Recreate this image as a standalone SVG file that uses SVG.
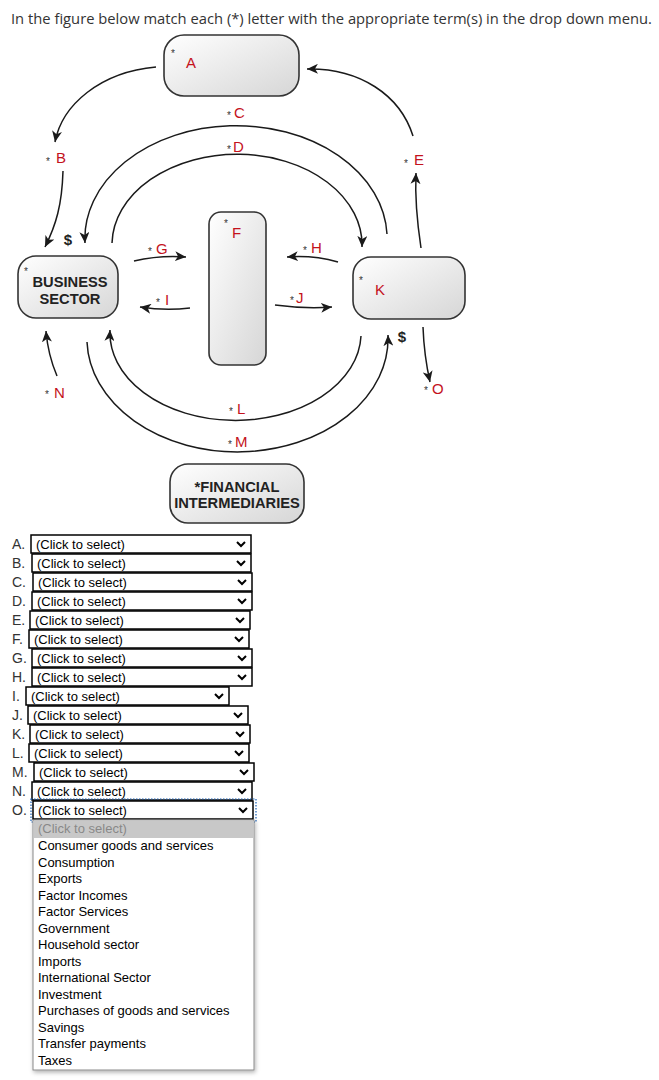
<svg xmlns="http://www.w3.org/2000/svg" width="659" height="1080" viewBox="0 0 659 1080">
<style>
.ttl{font-family:"Open Sans","Liberation Sans",sans-serif;font-size:14px;fill:#333}
.box{fill:url(#g);stroke:#333;stroke-width:1.6}
.bold{font-family:"Liberation Sans",Arial,sans-serif;font-weight:bold;font-size:14.7px;fill:#222;text-anchor:middle}
.star{font-family:"Liberation Sans",Arial,sans-serif;font-size:10px;fill:#333}
.lt{font-family:"Liberation Sans",Arial,sans-serif;font-size:15px;fill:#c4121c}
.dol{font-family:"Liberation Sans",Arial,sans-serif;font-weight:bold;font-size:15px;fill:#222;text-anchor:middle}
.ln{fill:none;stroke:#1a1a1a;stroke-width:1.5}
.ar{marker-end:url(#ah)}
.lab{font-family:"Liberation Sans",Arial,sans-serif;font-size:14px;fill:#333}
.sel{fill:#fff;stroke:#000;stroke-width:1.5}
.st{font-family:"Liberation Sans",Arial,sans-serif;font-size:13px;fill:#000}
.chev{fill:none;stroke:#000;stroke-width:2}
.opt{font-family:"Liberation Sans",Arial,sans-serif;font-size:13px;fill:#000}
</style>
<defs>
<linearGradient id="g" x1="0" y1="0" x2="1" y2="1">
<stop offset="0" stop-color="#ffffff"/>
<stop offset="1" stop-color="#d6d6d6"/>
</linearGradient>
<marker id="ah" markerUnits="userSpaceOnUse" markerWidth="12" markerHeight="10" refX="11" refY="5" orient="auto">
<path d="M0,0 L11,5 L0,10 L3,5 z" fill="#1a1a1a"/>
</marker>
<filter id="sh" x="-10%" y="-10%" width="125%" height="120%">
<feDropShadow dx="1" dy="2" stdDeviation="2" flood-color="#000" flood-opacity="0.3"/>
</filter>
</defs>
<rect width="659" height="1080" fill="#fff"/>
<text class="ttl" x="11" y="24" textLength="641" lengthAdjust="spacingAndGlyphs">In the figure below match each (*) letter with the appropriate term(s) in the drop down menu.</text>

<g id="connectors">
<path class="ln ar" d="M156,67 C100,72 62,105 55,142"/>
<path class="ln ar" d="M63,171 C62,205 56,225 45,247"/>
<path class="ln ar" d="M387,234 A150,112 0 0 0 85,243"/>
<path class="ln ar" d="M112,243 A124,90 0 0 1 362,247"/>
<path class="ln ar" d="M413,136 C400,95 360,68 307,69"/>
<path class="ln ar" d="M421,248 C416,215 415,195 416,173"/>
<path class="ln ar" d="M134,261 Q160,255 186,257"/>
<path class="ln ar" d="M190,308 Q165,311 140,307"/>
<path class="ln ar" d="M338,262 Q313,255 287,257"/>
<path class="ln ar" d="M275,305 Q305,309 332,307"/>
<path class="ln ar" d="M57,376 Q48,355 46,331"/>
<path class="ln ar" d="M423,327 Q424,355 430,382"/>
<path class="ln ar" d="M361,336 A125,87 0 0 1 110,330"/>
<path class="ln ar" d="M87,342 A150,113 0 0 0 388,335"/>
</g>

<g id="labels">
<text class="star" x="46" y="165">*</text><text class="lt" x="56" y="163">B</text>
<text class="star" x="227" y="119">*</text><text class="lt" x="234" y="118">C</text>
<text class="star" x="227" y="153">*</text><text class="lt" x="233" y="152">D</text>
<text class="star" x="404" y="167">*</text><text class="lt" x="414" y="165">E</text>
<text class="star" x="148" y="255">*</text><text class="lt" x="156" y="254">G</text>
<text class="star" x="156" y="306">*</text><text class="lt" x="165" y="305">I</text>
<text class="star" x="303" y="254">*</text><text class="lt" x="311" y="253">H</text>
<text class="star" x="290" y="304">*</text><text class="lt" x="296" y="303">J</text>
<text class="star" x="45" y="398">*</text><text class="lt" x="54" y="398">N</text>
<text class="star" x="424" y="394">*</text><text class="lt" x="432" y="394">O</text>
<text class="star" x="229" y="415">*</text><text class="lt" x="237" y="414">L</text>
<text class="star" x="228" y="448">*</text><text class="lt" x="235" y="447">M</text>
<text class="dol" x="68" y="245">$</text>
<text class="dol" x="402" y="342">$</text>
</g>

<g id="node-A">
<rect class="box" x="164" y="35" width="135" height="61" rx="20"/>
<text class="star" x="171" y="57">*</text><text class="lt" x="186" y="68">A</text>
</g>
<g id="node-F">
<rect class="box" x="209" y="212" width="57" height="153" rx="12"/>
<text class="star" x="224" y="227">*</text><text class="lt" x="232" y="238">F</text>
</g>
<g id="node-business">
<rect class="box" x="18" y="256" width="100" height="62" rx="18"/>
<text class="star" x="24" y="275">*</text>
<text class="bold" x="70" y="287">BUSINESS</text>
<text class="bold" x="70" y="304">SECTOR</text>
</g>
<g id="node-K">
<rect class="box" x="353" y="257" width="112" height="62" rx="18"/>
<text class="star" x="359" y="284">*</text><text class="lt" x="375" y="295">K</text>
</g>
<g id="node-financial">
<rect class="box" x="170" y="464" width="134" height="59" rx="18"/>
<text class="bold" x="237" y="492">*FINANCIAL</text>
<text class="bold" x="237" y="508">INTERMEDIARIES</text>
</g>

<g id="dropdowns">
<text class="lab" x="12" y="549">A.</text><rect class="sel" x="31" y="535" width="220" height="18"/><text class="st" x="36" y="549">(Click to select)</text><path class="chev" d="M237,542 l4,4 l4,-4"/>
<text class="lab" x="12" y="568">B.</text><rect class="sel" x="32" y="554" width="219" height="18"/><text class="st" x="37" y="568">(Click to select)</text><path class="chev" d="M237,561 l4,4 l4,-4"/>
<text class="lab" x="12" y="587">C.</text><rect class="sel" x="33" y="573" width="219" height="18"/><text class="st" x="38" y="587">(Click to select)</text><path class="chev" d="M238,580 l4,4 l4,-4"/>
<text class="lab" x="12" y="606">D.</text><rect class="sel" x="32" y="592" width="220" height="18"/><text class="st" x="37" y="606">(Click to select)</text><path class="chev" d="M238,599 l4,4 l4,-4"/>
<text class="lab" x="12" y="625">E.</text><rect class="sel" x="30" y="611" width="220" height="18"/><text class="st" x="35" y="625">(Click to select)</text><path class="chev" d="M236,618 l4,4 l4,-4"/>
<text class="lab" x="12" y="644">F.</text><rect class="sel" x="29" y="630" width="220" height="18"/><text class="st" x="34" y="644">(Click to select)</text><path class="chev" d="M235,637 l4,4 l4,-4"/>
<text class="lab" x="12" y="663">G.</text><rect class="sel" x="32" y="649" width="220" height="18"/><text class="st" x="37" y="663">(Click to select)</text><path class="chev" d="M238,656 l4,4 l4,-4"/>
<text class="lab" x="12" y="682">H.</text><rect class="sel" x="32" y="668" width="220" height="18"/><text class="st" x="37" y="682">(Click to select)</text><path class="chev" d="M238,675 l4,4 l4,-4"/>
<text class="lab" x="12" y="701">I.</text><rect class="sel" x="26" y="687" width="203" height="18"/><text class="st" x="31" y="701">(Click to select)</text><path class="chev" d="M215,694 l4,4 l4,-4"/>
<text class="lab" x="12" y="720">J.</text><rect class="sel" x="28" y="706" width="220" height="18"/><text class="st" x="33" y="720">(Click to select)</text><path class="chev" d="M234,713 l4,4 l4,-4"/>
<text class="lab" x="12" y="739">K.</text><rect class="sel" x="30" y="725" width="220" height="18"/><text class="st" x="35" y="739">(Click to select)</text><path class="chev" d="M236,732 l4,4 l4,-4"/>
<text class="lab" x="12" y="758">L.</text><rect class="sel" x="29" y="744" width="220" height="18"/><text class="st" x="34" y="758">(Click to select)</text><path class="chev" d="M235,751 l4,4 l4,-4"/>
<text class="lab" x="12" y="777">M.</text><rect class="sel" x="34" y="763" width="220" height="18"/><text class="st" x="39" y="777">(Click to select)</text><path class="chev" d="M240,770 l4,4 l4,-4"/>
<text class="lab" x="12" y="796">N.</text><rect class="sel" x="32" y="782" width="220" height="18"/><text class="st" x="37" y="796">(Click to select)</text><path class="chev" d="M238,789 l4,4 l4,-4"/>
<text class="lab" x="12" y="815">O.</text><rect x="31" y="799" width="225" height="23" fill="none" stroke="#1a5fb4" stroke-width="1.2" stroke-dasharray="1.5,1.5"/><rect class="sel" x="33" y="801" width="220" height="18"/><text class="st" x="38" y="815">(Click to select)</text><path class="chev" d="M239,808 l4,4 l4,-4"/>
</g>

<g id="dropdown-list">
<rect x="33" y="820" width="221" height="250" fill="#fff" stroke="#8a8a8a" stroke-width="1" filter="url(#sh)"/>
<rect x="34" y="821" width="219" height="17" fill="#c8c8c8"/>
<text class="opt" x="38" y="833" style="fill:#888">(Click to select)</text>
<text class="opt" x="38" y="850">Consumer goods and services</text>
<text class="opt" x="38" y="866.5">Consumption</text>
<text class="opt" x="38" y="883">Exports</text>
<text class="opt" x="38" y="899.5">Factor Incomes</text>
<text class="opt" x="38" y="916">Factor Services</text>
<text class="opt" x="38" y="932.5">Government</text>
<text class="opt" x="38" y="949">Household sector</text>
<text class="opt" x="38" y="965.5">Imports</text>
<text class="opt" x="38" y="982">International Sector</text>
<text class="opt" x="38" y="998.5">Investment</text>
<text class="opt" x="38" y="1015">Purchases of goods and services</text>
<text class="opt" x="38" y="1031.5">Savings</text>
<text class="opt" x="38" y="1048">Transfer payments</text>
<text class="opt" x="38" y="1064.5">Taxes</text>
</g>
</svg>
